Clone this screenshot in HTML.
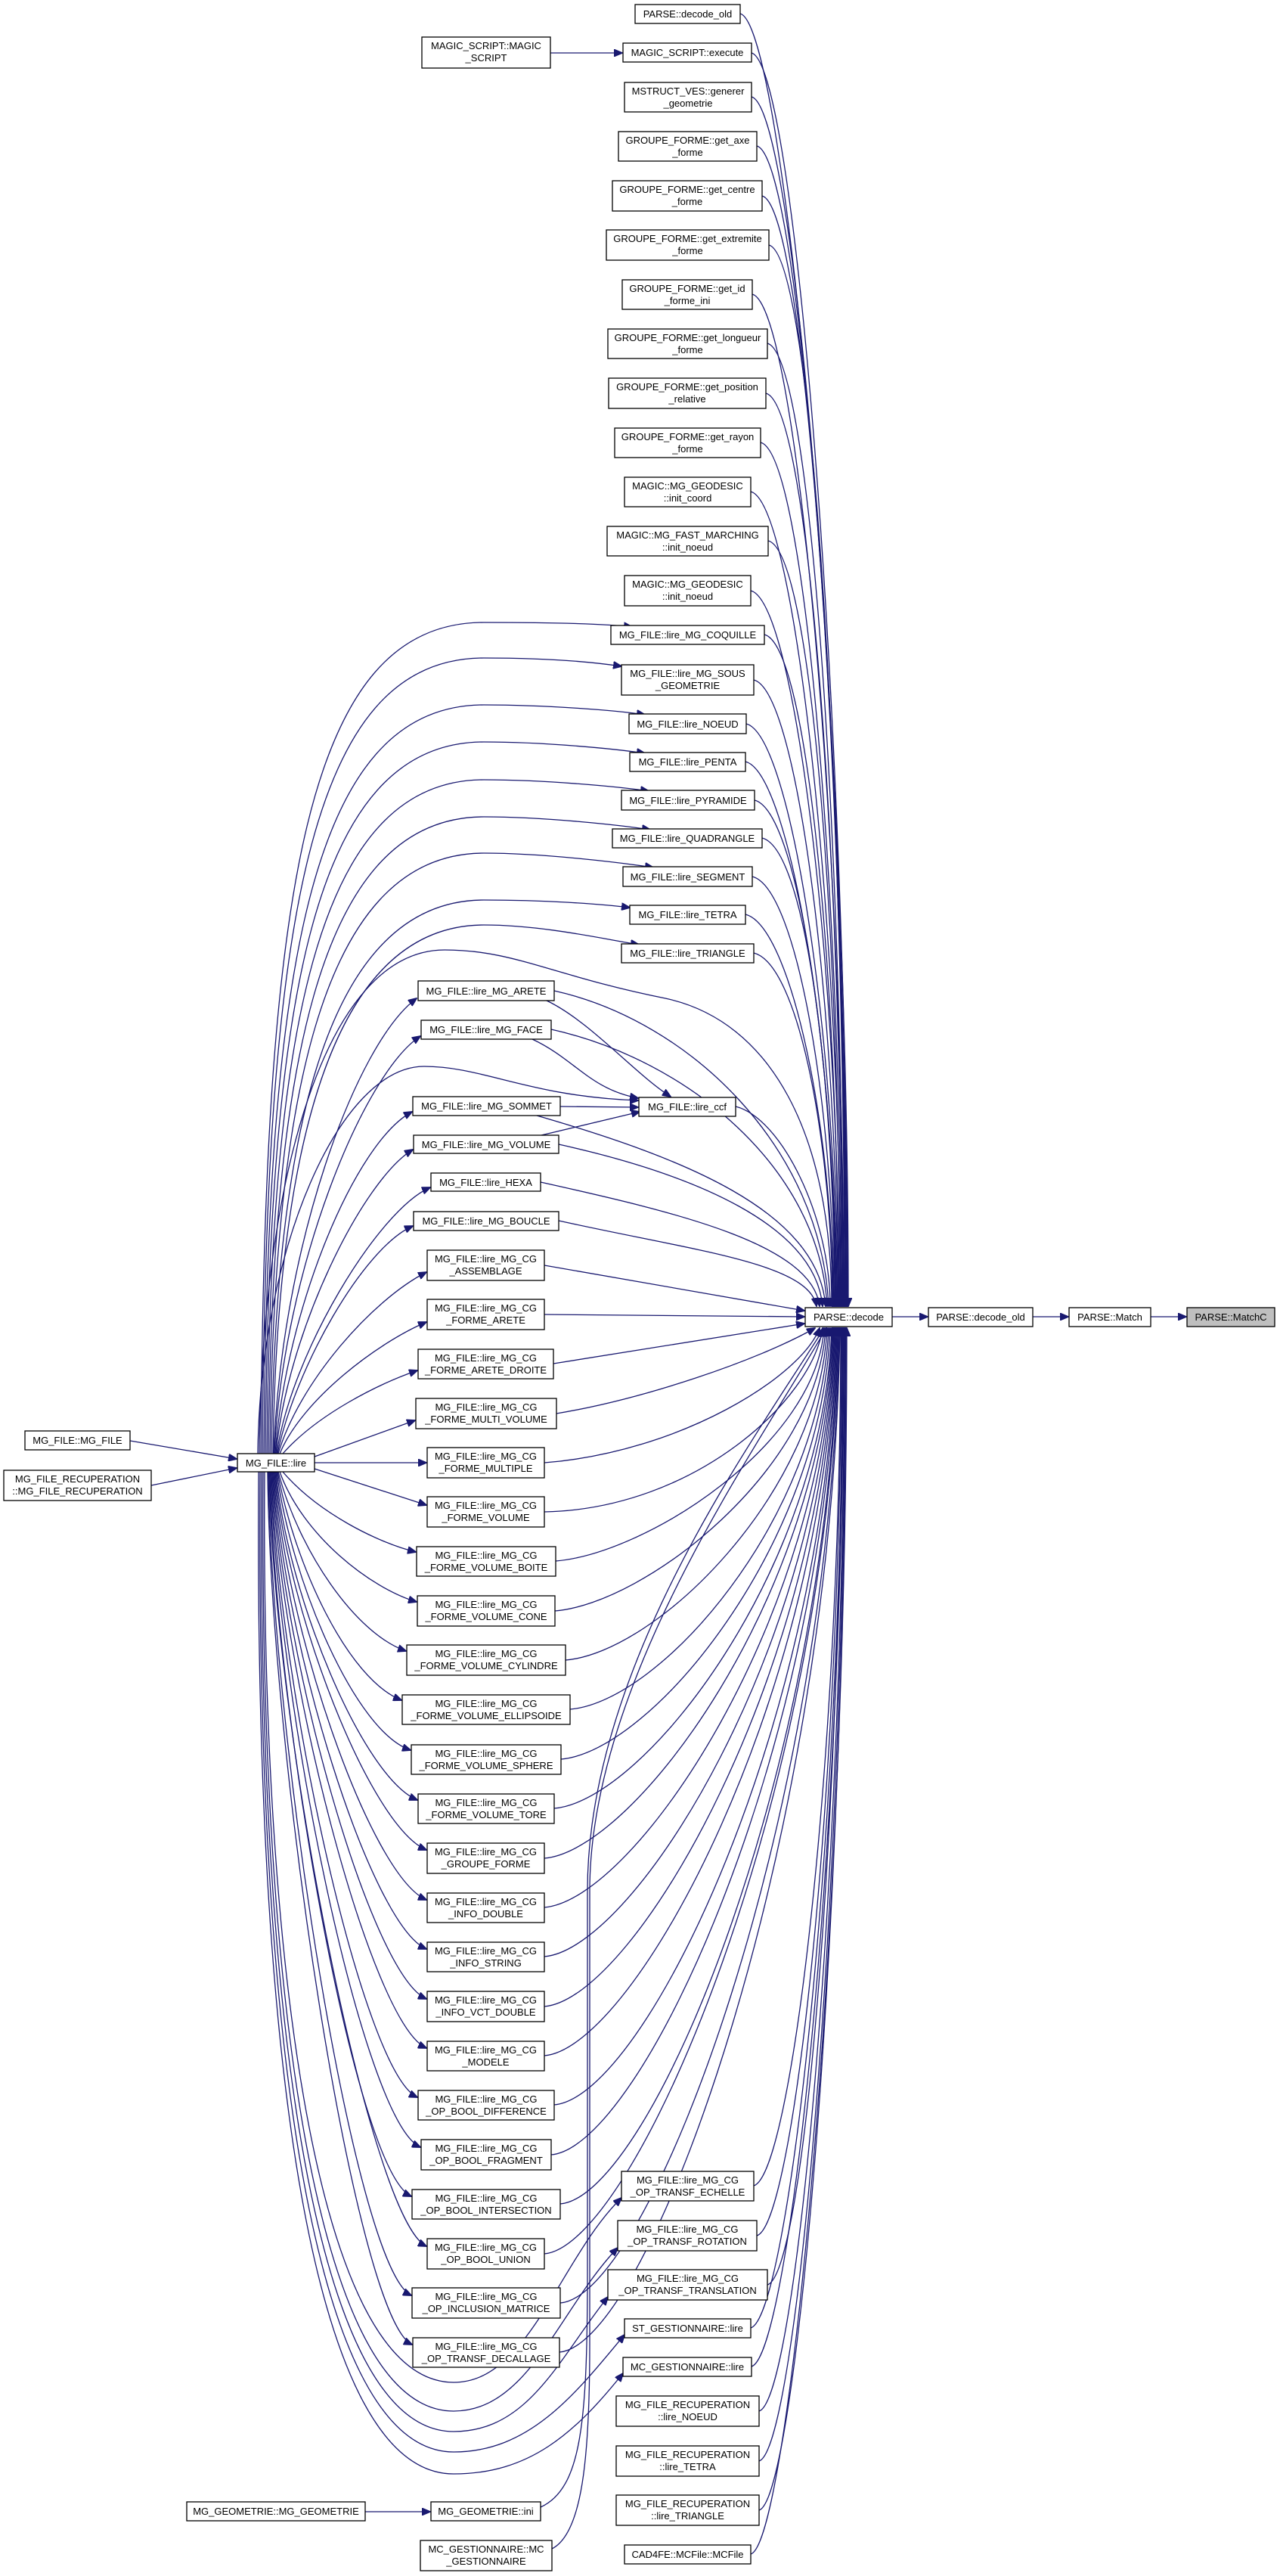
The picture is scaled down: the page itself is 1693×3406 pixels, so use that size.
<!DOCTYPE html>
<html><head><meta charset="utf-8"><style>
html,body{margin:0;padding:0;background:#fff}
svg{display:block}
text{font-family:"Liberation Sans",Arial,sans-serif;font-size:13px;text-anchor:middle;fill:#000}
rect{fill:#fff;stroke:#000;stroke-width:1.3}
.e path,path.e{fill:none;stroke:#191970;stroke-width:1.3}
</style></head><body>
<svg width="1693" height="3406" viewBox="0 0 1693 3406" xmlns="http://www.w3.org/2000/svg">
<defs><marker id="a" viewBox="0 0 12 10" refX="11" refY="5" markerWidth="12" markerHeight="10" markerUnits="userSpaceOnUse" orient="auto"><path d="M0,0 L12,5 L0,10 z" fill="#191970" stroke="#191970"/></marker></defs>
<g class="e" marker-end="url(#a)">
<path d="M979 18 C1039 33 1122 958 1122 1727" marker-end="url(#a)"/>
<path d="M994 70 C1054 85 1121 981 1121 1727" marker-end="url(#a)"/>
<path d="M994 128 C1054 143 1120 1007 1120 1727" marker-end="url(#a)"/>
<path d="M1001 193 C1061 208 1119 1037 1119 1727" marker-end="url(#a)"/>
<path d="M1008 259 C1068 274 1118 1066 1118 1727" marker-end="url(#a)"/>
<path d="M1017 324 C1077 339 1117 1096 1117 1727" marker-end="url(#a)"/>
<path d="M995 389 C1055 404 1116 1125 1116 1727" marker-end="url(#a)"/>
<path d="M1015 454 C1075 469 1115 1154 1115 1727" marker-end="url(#a)"/>
<path d="M1013 520 C1073 535 1114 1184 1114 1727" marker-end="url(#a)"/>
<path d="M1006 585 C1066 600 1113 1213 1113 1727" marker-end="url(#a)"/>
<path d="M993 650 C1053 665 1112 1242 1112 1727" marker-end="url(#a)"/>
<path d="M1016 715 C1076 730 1111 1272 1111 1727" marker-end="url(#a)"/>
<path d="M993 781 C1053 796 1110 1301 1110 1727" marker-end="url(#a)"/>
<path d="M1011 839 C1071 854 1109 1327 1109 1727" marker-end="url(#a)"/>
<path d="M997 899 C1057 914 1108 1354 1108 1727" marker-end="url(#a)"/>
<path d="M987 957 C1047 972 1107 1380 1107 1727" marker-end="url(#a)"/>
<path d="M986 1007 C1046 1022 1106 1403 1106 1727" marker-end="url(#a)"/>
<path d="M998 1058 C1058 1073 1105 1426 1105 1727" marker-end="url(#a)"/>
<path d="M1008 1108 C1068 1123 1104 1448 1104 1727" marker-end="url(#a)"/>
<path d="M995 1159 C1055 1174 1103 1471 1103 1727" marker-end="url(#a)"/>
<path d="M986 1209 C1046 1224 1102 1494 1102 1727" marker-end="url(#a)"/>
<path d="M997 1260 C1057 1275 1101 1517 1101 1727" marker-end="url(#a)"/>
<path d="M973 1463 C1033 1478 1098 1608 1098 1727" marker-end="url(#a)"/>
<path d="M733 1310 C913 1350 1086 1518 1096 1727" marker-end="url(#a)"/>
<path d="M729 1361 C909 1401 1084 1544 1094 1727" marker-end="url(#a)"/>
<path d="M710 1475 C900 1530 1082 1600 1092 1727" marker-end="url(#a)"/>
<path d="M739 1513 C919 1553 1078 1620 1088 1727" marker-end="url(#a)"/>
<path d="M715 1563 C895 1603 1074 1645 1084 1727" marker-end="url(#a)"/>
<path d="M739 1614 C919 1654 1070 1670 1080 1727" marker-end="url(#a)"/>
<path d="M720 1673 L1064 1733" marker-end="url(#a)"/>
<path d="M720 1738 L1064 1741" marker-end="url(#a)"/>
<path d="M732 1803 L1064 1750" marker-end="url(#a)"/>
<path d="M736 1869 C850 1850 1000 1800 1078 1756" marker-end="url(#a)"/>
<path d="M720 1934 C900 1920 1060 1820 1084 1756" marker-end="url(#a)"/>
<path d="M720 1999 C920 1995 1075 1850 1088 1756" marker-end="url(#a)"/>
<path d="M735 2064 C855 2054 1080 1910 1090 1756" marker-end="url(#a)"/>
<path d="M734 2130 C854 2120 1082 1943 1092 1756" marker-end="url(#a)"/>
<path d="M748 2195 C868 2185 1084 1975 1094 1756" marker-end="url(#a)"/>
<path d="M754 2260 C874 2250 1086 2008 1096 1756" marker-end="url(#a)"/>
<path d="M742 2326 C862 2316 1088 2041 1098 1756" marker-end="url(#a)"/>
<path d="M733 2391 C853 2381 1090 2073 1100 1756" marker-end="url(#a)"/>
<path d="M720 2457 C840 2447 1091 2106 1101 1756" marker-end="url(#a)"/>
<path d="M720 2522 C840 2512 1092 2139 1102 1756" marker-end="url(#a)"/>
<path d="M720 2587 C840 2577 1093 2171 1103 1756" marker-end="url(#a)"/>
<path d="M720 2653 C840 2643 1094 2204 1104 1756" marker-end="url(#a)"/>
<path d="M720 2718 C840 2708 1095 2237 1105 1756" marker-end="url(#a)"/>
<path d="M733 2783 C853 2773 1096 2270 1106 1756" marker-end="url(#a)"/>
<path d="M729 2849 C849 2839 1097 2302 1107 1756" marker-end="url(#a)"/>
<path d="M741 2914 C861 2904 1098 2335 1108 1756" marker-end="url(#a)"/>
<path d="M720 2980 C840 2970 1099 2368 1109 1756" marker-end="url(#a)"/>
<path d="M741 3045 C861 3035 1100 2400 1110 1756" marker-end="url(#a)"/>
<path d="M740 3110 C860 3100 1101 2433 1111 1756" marker-end="url(#a)"/>
<path d="M997 2890 C1047 2875 1112 2323 1112 1756" marker-end="url(#a)"/>
<path d="M1001 2956 C1051 2941 1113 2356 1113 1756" marker-end="url(#a)"/>
<path d="M1015 3021 C1065 3006 1114 2388 1114 1756" marker-end="url(#a)"/>
<path d="M993 3078 C1043 3063 1115 2417 1115 1756" marker-end="url(#a)"/>
<path d="M994 3129 C1044 3114 1116 2442 1116 1756" marker-end="url(#a)"/>
<path d="M1004 3188 C1054 3173 1117 2472 1117 1756" marker-end="url(#a)"/>
<path d="M1004 3254 C1054 3239 1118 2505 1118 1756" marker-end="url(#a)"/>
<path d="M1004 3319 C1054 3304 1119 2537 1119 1756" marker-end="url(#a)"/>
<path d="M993 3377 C1043 3362 1120 2566 1120 1756" marker-end="url(#a)"/>
<path d="M362 1922 C372 1650 470 1380 551 1320" marker-end="url(#a)"/>
<path d="M363 1922 C374 1680 480 1420 556 1370" marker-end="url(#a)"/>
<path d="M364 1922 C378 1730 470 1510 545 1470" marker-end="url(#a)"/>
<path d="M365 1922 C380 1760 480 1560 546 1520" marker-end="url(#a)"/>
<path d="M366 1922 C385 1790 500 1600 569 1570" marker-end="url(#a)"/>
<path d="M367 1922 C390 1810 480 1650 546 1621" marker-end="url(#a)"/>
<path d="M368 1922 C395 1830 490 1720 564 1682" marker-end="url(#a)"/>
<path d="M370 1922 C400 1850 500 1775 564 1748" marker-end="url(#a)"/>
<path d="M374 1922 C420 1870 500 1830 552 1812" marker-end="url(#a)"/>
<path d="M416 1926 L549 1878" marker-end="url(#a)"/>
<path d="M416 1934 L564 1934" marker-end="url(#a)"/>
<path d="M416 1942 L564 1990" marker-end="url(#a)"/>
<path d="M374 1946 C420 2000 500 2040 550 2052" marker-end="url(#a)"/>
<path d="M370 1946 C400 2030 490 2100 551 2118" marker-end="url(#a)"/>
<path d="M368 1946 C395 2050 470 2160 537 2183" marker-end="url(#a)"/>
<path d="M367 1946 C390 2070 460 2220 531 2248" marker-end="url(#a)"/>
<path d="M366 1946 C385 2090 470 2290 543 2314" marker-end="url(#a)"/>
<path d="M365 1946 C380 2110 480 2350 552 2380" marker-end="url(#a)"/>
<path d="M364 1946 C378 2130 490 2415 564 2446" marker-end="url(#a)"/>
<path d="M363 1946 C376 2150 490 2480 564 2512" marker-end="url(#a)"/>
<path d="M362 1946 C374 2170 490 2545 564 2577" marker-end="url(#a)"/>
<path d="M361 1946 C372 2190 490 2610 564 2643" marker-end="url(#a)"/>
<path d="M360 1946 C370 2210 490 2675 564 2708" marker-end="url(#a)"/>
<path d="M359 1946 C368 2230 480 2740 552 2773" marker-end="url(#a)"/>
<path d="M358 1946 C366 2250 480 2805 556 2839" marker-end="url(#a)"/>
<path d="M357 1946 C364 2270 470 2870 544 2904" marker-end="url(#a)"/>
<path d="M356 1946 C362 2290 490 2935 564 2970" marker-end="url(#a)"/>
<path d="M355 1946 C360 2310 470 3000 544 3035" marker-end="url(#a)"/>
<path d="M354 1946 C358 2330 470 3065 545 3100" marker-end="url(#a)"/>
<path d="M345 1922 C350 1173 405 823 640 823 C720 823 796 824 836 829" marker-end="url(#a)"/>
<path d="M347 1922 C352 1220 407 870 640 870 C720 870 782 875 822 881" marker-end="url(#a)"/>
<path d="M349 1922 C354 1282 409 932 640 932 C720 932 813 939 853 945" marker-end="url(#a)"/>
<path d="M351 1922 C356 1331 411 981 640 981 C720 981 813 990 853 996" marker-end="url(#a)"/>
<path d="M353 1922 C358 1381 413 1031 640 1031 C720 1031 818 1040 858 1046" marker-end="url(#a)"/>
<path d="M355 1922 C360 1430 415 1080 640 1080 C720 1080 820 1091 860 1097" marker-end="url(#a)"/>
<path d="M357 1922 C362 1478 417 1128 640 1128 C720 1128 824 1141 864 1147" marker-end="url(#a)"/>
<path d="M359 1922 C364 1540 419 1190 640 1190 C720 1190 793 1195 833 1200" marker-end="url(#a)"/>
<path d="M361 1922 C366 1573 421 1223 640 1223 C720 1223 805 1243 845 1249" marker-end="url(#a)"/>
<path d="M343 1922 C346 1560 430 1256 588 1256 C680 1256 730 1290 880 1320 C1020 1350 1100 1500 1100 1727" marker-end="url(#a)"/>
<path d="M341 1922 C344 1650 450 1410 561 1410 C640 1410 700 1450 844 1455" marker-end="url(#a)"/>
<path d="M723 1323 C780 1350 840 1420 887 1450" marker-end="url(#a)"/>
<path d="M704 1374 C760 1400 780 1440 844 1452" marker-end="url(#a)"/>
<path d="M741 1463 L844 1464" marker-end="url(#a)"/>
<path d="M716 1501 L846 1470" marker-end="url(#a)"/>
<path d="M350 1946 C345 2550 410 3150 600 3150 C700 3150 740 2986 822 2906" marker-end="url(#a)"/>
<path d="M348 1946 C343 2588 408 3188 600 3188 C700 3188 740 3052 817 2972" marker-end="url(#a)"/>
<path d="M346 1946 C341 2615 406 3215 600 3215 C700 3215 740 3117 804 3037" marker-end="url(#a)"/>
<path d="M344 1946 C339 2642 404 3242 600 3242 C700 3242 760 3167 826 3087" marker-end="url(#a)"/>
<path d="M342 1946 C337 2671 402 3271 600 3271 C700 3271 760 3218 824 3138" marker-end="url(#a)"/>
<path d="M715 3315 C770 3290 777 3200 777 3000 L777 2500 C777 2200 1000 1900 1090 1756" marker-end="url(#a)"/>
<path d="M730 3370 C770 3350 780 3250 780 3100 L780 2500 C780 2220 1005 1910 1093 1756" marker-end="url(#a)"/>
<path d="M728 70 L823 70" marker-end="url(#a)"/>
<path d="M483 3321 L569 3321" marker-end="url(#a)"/>
<path d="M172 1905 L313 1929" marker-end="url(#a)"/>
<path d="M200 1964 L313 1941" marker-end="url(#a)"/>
<path d="M1180 1741 L1227 1741" marker-end="url(#a)"/>
<path d="M1366 1741 L1413 1741" marker-end="url(#a)"/>
<path d="M1522 1741 L1569 1741" marker-end="url(#a)"/>
</g>
<g>
<rect x="840" y="6" width="139" height="25"/><text x="909.5" y="23">PARSE::decode_old</text>
<rect x="558" y="49" width="170" height="41"/><text x="643" y="65">MAGIC_SCRIPT::MAGIC</text><text x="643" y="81">_SCRIPT</text>
<rect x="824" y="57" width="170" height="25"/><text x="909" y="74">MAGIC_SCRIPT::execute</text>
<rect x="826" y="109" width="168" height="39"/><text x="910" y="125">MSTRUCT_VES::generer</text><text x="910" y="141">_geometrie</text>
<rect x="818" y="174" width="183" height="39"/><text x="909.5" y="190">GROUPE_FORME::get_axe</text><text x="909.5" y="206">_forme</text>
<rect x="810" y="239" width="198" height="40"/><text x="909" y="255">GROUPE_FORME::get_centre</text><text x="909" y="271">_forme</text>
<rect x="802" y="304" width="215" height="40"/><text x="909.5" y="320">GROUPE_FORME::get_extremite</text><text x="909.5" y="336">_forme</text>
<rect x="823" y="370" width="172" height="39"/><text x="909" y="386">GROUPE_FORME::get_id</text><text x="909" y="402">_forme_ini</text>
<rect x="804" y="435" width="211" height="39"/><text x="909.5" y="451">GROUPE_FORME::get_longueur</text><text x="909.5" y="467">_forme</text>
<rect x="805" y="500" width="208" height="40"/><text x="909" y="516">GROUPE_FORME::get_position</text><text x="909" y="532">_relative</text>
<rect x="813" y="566" width="193" height="39"/><text x="909.5" y="582">GROUPE_FORME::get_rayon</text><text x="909.5" y="598">_forme</text>
<rect x="826" y="631" width="167" height="39"/><text x="909.5" y="647">MAGIC::MG_GEODESIC</text><text x="909.5" y="663">::init_coord</text>
<rect x="803" y="696" width="213" height="39"/><text x="909.5" y="712">MAGIC::MG_FAST_MARCHING</text><text x="909.5" y="728">::init_noeud</text>
<rect x="826" y="761" width="167" height="40"/><text x="909.5" y="777">MAGIC::MG_GEODESIC</text><text x="909.5" y="793">::init_noeud</text>
<rect x="808" y="827" width="203" height="25"/><text x="909.5" y="844">MG_FILE::lire_MG_COQUILLE</text>
<rect x="822" y="879" width="175" height="40"/><text x="909.5" y="895">MG_FILE::lire_MG_SOUS</text><text x="909.5" y="911">_GEOMETRIE</text>
<rect x="832" y="944" width="155" height="26"/><text x="909.5" y="962">MG_FILE::lire_NOEUD</text>
<rect x="833" y="995" width="153" height="25"/><text x="909.5" y="1012">MG_FILE::lire_PENTA</text>
<rect x="822" y="1045" width="176" height="26"/><text x="910" y="1063">MG_FILE::lire_PYRAMIDE</text>
<rect x="810" y="1096" width="198" height="25"/><text x="909" y="1113">MG_FILE::lire_QUADRANGLE</text>
<rect x="824" y="1146" width="171" height="26"/><text x="909.5" y="1164">MG_FILE::lire_SEGMENT</text>
<rect x="833" y="1197" width="153" height="25"/><text x="909.5" y="1214">MG_FILE::lire_TETRA</text>
<rect x="822" y="1248" width="175" height="25"/><text x="909.5" y="1265">MG_FILE::lire_TRIANGLE</text>
<rect x="553" y="1297" width="180" height="26"/><text x="643" y="1315">MG_FILE::lire_MG_ARETE</text>
<rect x="557" y="1349" width="172" height="25"/><text x="643" y="1366">MG_FILE::lire_MG_FACE</text>
<rect x="845" y="1451" width="128" height="25"/><text x="909" y="1468">MG_FILE::lire_ccf</text>
<rect x="546" y="1450" width="195" height="25"/><text x="643.5" y="1467">MG_FILE::lire_MG_SOMMET</text>
<rect x="547" y="1501" width="192" height="24"/><text x="643" y="1518">MG_FILE::lire_MG_VOLUME</text>
<rect x="570" y="1551" width="145" height="24"/><text x="642.5" y="1568">MG_FILE::lire_HEXA</text>
<rect x="547" y="1602" width="192" height="25"/><text x="643" y="1619">MG_FILE::lire_MG_BOUCLE</text>
<rect x="565" y="1653" width="155" height="40"/><text x="642.5" y="1669">MG_FILE::lire_MG_CG</text><text x="642.5" y="1685">_ASSEMBLAGE</text>
<rect x="565" y="1718" width="155" height="40"/><text x="642.5" y="1734">MG_FILE::lire_MG_CG</text><text x="642.5" y="1750">_FORME_ARETE</text>
<rect x="553" y="1784" width="179" height="39"/><text x="642.5" y="1800">MG_FILE::lire_MG_CG</text><text x="642.5" y="1816">_FORME_ARETE_DROITE</text>
<rect x="550" y="1849" width="186" height="40"/><text x="643" y="1865">MG_FILE::lire_MG_CG</text><text x="643" y="1881">_FORME_MULTI_VOLUME</text>
<rect x="565" y="1914" width="155" height="40"/><text x="642.5" y="1930">MG_FILE::lire_MG_CG</text><text x="642.5" y="1946">_FORME_MULTIPLE</text>
<rect x="565" y="1979" width="155" height="40"/><text x="642.5" y="1995">MG_FILE::lire_MG_CG</text><text x="642.5" y="2011">_FORME_VOLUME</text>
<rect x="551" y="2045" width="184" height="39"/><text x="643" y="2061">MG_FILE::lire_MG_CG</text><text x="643" y="2077">_FORME_VOLUME_BOITE</text>
<rect x="552" y="2110" width="182" height="40"/><text x="643" y="2126">MG_FILE::lire_MG_CG</text><text x="643" y="2142">_FORME_VOLUME_CONE</text>
<rect x="538" y="2175" width="210" height="40"/><text x="643" y="2191">MG_FILE::lire_MG_CG</text><text x="643" y="2207">_FORME_VOLUME_CYLINDRE</text>
<rect x="532" y="2241" width="222" height="39"/><text x="643" y="2257">MG_FILE::lire_MG_CG</text><text x="643" y="2273">_FORME_VOLUME_ELLIPSOIDE</text>
<rect x="544" y="2307" width="198" height="39"/><text x="643" y="2323">MG_FILE::lire_MG_CG</text><text x="643" y="2339">_FORME_VOLUME_SPHERE</text>
<rect x="553" y="2372" width="180" height="39"/><text x="643" y="2388">MG_FILE::lire_MG_CG</text><text x="643" y="2404">_FORME_VOLUME_TORE</text>
<rect x="565" y="2437" width="155" height="40"/><text x="642.5" y="2453">MG_FILE::lire_MG_CG</text><text x="642.5" y="2469">_GROUPE_FORME</text>
<rect x="565" y="2503" width="155" height="39"/><text x="642.5" y="2519">MG_FILE::lire_MG_CG</text><text x="642.5" y="2535">_INFO_DOUBLE</text>
<rect x="565" y="2568" width="155" height="39"/><text x="642.5" y="2584">MG_FILE::lire_MG_CG</text><text x="642.5" y="2600">_INFO_STRING</text>
<rect x="565" y="2633" width="155" height="40"/><text x="642.5" y="2649">MG_FILE::lire_MG_CG</text><text x="642.5" y="2665">_INFO_VCT_DOUBLE</text>
<rect x="565" y="2699" width="155" height="39"/><text x="642.5" y="2715">MG_FILE::lire_MG_CG</text><text x="642.5" y="2731">_MODELE</text>
<rect x="553" y="2764" width="180" height="39"/><text x="643" y="2780">MG_FILE::lire_MG_CG</text><text x="643" y="2796">_OP_BOOL_DIFFERENCE</text>
<rect x="557" y="2829" width="172" height="40"/><text x="643" y="2845">MG_FILE::lire_MG_CG</text><text x="643" y="2861">_OP_BOOL_FRAGMENT</text>
<rect x="545" y="2895" width="196" height="39"/><text x="643" y="2911">MG_FILE::lire_MG_CG</text><text x="643" y="2927">_OP_BOOL_INTERSECTION</text>
<rect x="565" y="2960" width="155" height="40"/><text x="642.5" y="2976">MG_FILE::lire_MG_CG</text><text x="642.5" y="2992">_OP_BOOL_UNION</text>
<rect x="545" y="3025" width="196" height="40"/><text x="643" y="3041">MG_FILE::lire_MG_CG</text><text x="643" y="3057">_OP_INCLUSION_MATRICE</text>
<rect x="546" y="3091" width="194" height="39"/><text x="643" y="3107">MG_FILE::lire_MG_CG</text><text x="643" y="3123">_OP_TRANSF_DECALLAGE</text>
<rect x="822" y="2871" width="175" height="39"/><text x="909.5" y="2887">MG_FILE::lire_MG_CG</text><text x="909.5" y="2903">_OP_TRANSF_ECHELLE</text>
<rect x="817" y="2936" width="184" height="40"/><text x="909" y="2952">MG_FILE::lire_MG_CG</text><text x="909" y="2968">_OP_TRANSF_ROTATION</text>
<rect x="804" y="3001" width="211" height="40"/><text x="909.5" y="3017">MG_FILE::lire_MG_CG</text><text x="909.5" y="3033">_OP_TRANSF_TRANSLATION</text>
<rect x="826" y="3066" width="167" height="25"/><text x="909.5" y="3083">ST_GESTIONNAIRE::lire</text>
<rect x="824" y="3117" width="170" height="25"/><text x="909" y="3134">MC_GESTIONNAIRE::lire</text>
<rect x="815" y="3168" width="189" height="40"/><text x="909.5" y="3184">MG_FILE_RECUPERATION</text><text x="909.5" y="3200">::lire_NOEUD</text>
<rect x="815" y="3234" width="189" height="40"/><text x="909.5" y="3250">MG_FILE_RECUPERATION</text><text x="909.5" y="3266">::lire_TETRA</text>
<rect x="815" y="3299" width="189" height="40"/><text x="909.5" y="3315">MG_FILE_RECUPERATION</text><text x="909.5" y="3331">::lire_TRIANGLE</text>
<rect x="826" y="3365" width="167" height="25"/><text x="909.5" y="3382">CAD4FE::MCFile::MCFile</text>
<rect x="247" y="3308" width="236" height="25"/><text x="365" y="3325">MG_GEOMETRIE::MG_GEOMETRIE</text>
<rect x="570" y="3308" width="145" height="25"/><text x="642.5" y="3325">MG_GEOMETRIE::ini</text>
<rect x="556" y="3359" width="174" height="40"/><text x="643" y="3375">MC_GESTIONNAIRE::MC</text><text x="643" y="3391">_GESTIONNAIRE</text>
<rect x="1065" y="1729" width="115" height="25"/><text x="1122.5" y="1746">PARSE::decode</text>
<rect x="1228" y="1729" width="138" height="25"/><text x="1297" y="1746">PARSE::decode_old</text>
<rect x="1414" y="1729" width="108" height="25"/><text x="1468" y="1746">PARSE::Match</text>
<rect x="1570" y="1729" width="116" height="25" style="fill:#bfbfbf"/><text x="1628" y="1746">PARSE::MatchC</text>
<rect x="33" y="1892" width="139" height="25"/><text x="102.5" y="1909">MG_FILE::MG_FILE</text>
<rect x="5" y="1944" width="195" height="40"/><text x="102.5" y="1960">MG_FILE_RECUPERATION</text><text x="102.5" y="1976">::MG_FILE_RECUPERATION</text>
<rect x="314" y="1922" width="102" height="24"/><text x="365" y="1939">MG_FILE::lire</text>
</g>
</svg>
</body></html>
